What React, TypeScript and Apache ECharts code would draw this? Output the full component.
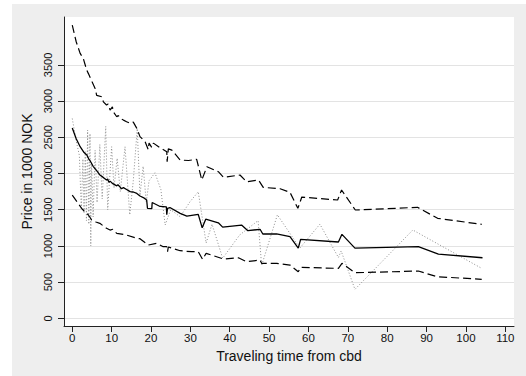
import React, { useEffect, useRef } from "react";
import * as echarts from "echarts";

// x = traveling time from cbd, y = price in 1000 NOK
const xTicks = [0, 10, 20, 30, 40, 50, 60, 70, 80, 90, 100, 110];
const yTicks = [0, 500, 1000, 1500, 2000, 2500, 3000, 3500];

const meanLine: number[][] = [
  [0, 2630], [1, 2480], [2, 2370], [3, 2290], [3.7, 2255], [4.2, 2200], [4.6, 2170],
  [5.3, 2100], [6.2, 2040], [7, 1980], [7.8, 1950], [8.7, 1910], [9.0, 1925], [9.3, 1880],
  [9.6, 1895], [10.3, 1860], [11.3, 1830], [11.6, 1845], [12.1, 1815], [12.5, 1790],
  [13.0, 1805], [13.8, 1780], [14.7, 1750], [15.5, 1745], [16.4, 1725], [17.2, 1690],
  [18.3, 1660], [18.9, 1635], [19.1, 1520], [20.2, 1515], [20.3, 1600], [22.3, 1545],
  [23.9, 1540], [24.0, 1430], [24.2, 1520], [24.8, 1530], [27.4, 1450], [29.1, 1413],
  [32.0, 1435], [33.0, 1250], [33.9, 1370], [37.1, 1320], [38.2, 1260], [43.0, 1288],
  [44.6, 1210], [47.7, 1230], [48.4, 1165], [51.9, 1165], [55.3, 1127], [57.4, 970],
  [58.0, 1090], [67.6, 1054], [68.5, 1160], [71.8, 970], [87.9, 990], [93.0, 888],
  [104.2, 837]
];

const upperBand: number[][] = [
  [0, 4050], [1, 3820], [2, 3660], [2.8, 3590], [3.66, 3430], [4.1, 3380], [5, 3270],
  [5.8, 3176], [6.2, 3080], [7.5, 3060], [7.9, 2990], [8.7, 2946], [9.1, 2960],
  [9.6, 2877], [10.2, 2920], [10.4, 2853], [11.3, 2784], [11.7, 2800], [12.3, 2760],
  [13.0, 2738], [13.8, 2715], [14.7, 2693], [15.5, 2710], [16.4, 2624], [17.2, 2510],
  [18.5, 2440], [19.3, 2330], [19.5, 2420], [20.2, 2360], [20.6, 2420], [22.3, 2356],
  [24.0, 2300], [24.1, 2163], [24.4, 2340], [25.3, 2324], [27.4, 2186], [29.5, 2180],
  [31.6, 2196], [32.9, 1910], [34.2, 2094], [37.1, 2025], [38.4, 1947], [42.6, 1979],
  [44.3, 1886], [47.3, 1910], [48.5, 1809], [52.8, 1790], [55.3, 1740], [57.3, 1519],
  [58.3, 1675], [67.4, 1634], [68.4, 1772], [71.9, 1496], [87.7, 1533], [92.8, 1381],
  [104, 1298]
];

const lowerBand: number[][] = [
  [0, 1703], [1.5, 1588], [2.5, 1510], [3.66, 1450], [4.1, 1427], [4.93, 1358],
  [6, 1330], [7, 1312], [8.7, 1243], [9.6, 1219], [10.3, 1230], [10.85, 1196],
  [11.3, 1174], [13, 1160], [13.8, 1150], [16.4, 1105], [17.2, 1100], [19.3, 1012],
  [21.4, 1036], [23.1, 989], [24, 989], [24.2, 920], [24.4, 985], [27.4, 934],
  [30.3, 920], [32, 920], [33.1, 815], [34, 898], [38.4, 819], [42.2, 837], [44.3, 782],
  [47.7, 805], [48.1, 760], [51.9, 760], [55.3, 736], [57.4, 644], [58, 704],
  [67.6, 690], [68.5, 760], [71.8, 630], [87.9, 653], [92.6, 575], [104, 539]
];

const rawAverage: number[][] = [
  [0, 2760], [1, 2450], [1.8, 2250], [2.3, 1500], [2.7, 2200], [3.0, 1450], [3.3, 2300],
  [3.6, 1350], [3.9, 2600], [4.2, 1300], [4.5, 2550], [4.7, 1000], [4.9, 2150],
  [5.3, 1400], [5.8, 2320], [6.3, 1600], [7.0, 2400], [7.6, 1650], [8.5, 2650],
  [9.0, 1500], [10.0, 2370], [10.6, 1800], [11.4, 2210], [12.2, 1750], [13.4, 2370],
  [14.6, 1430], [15.5, 1900], [16.5, 2620], [17.2, 1700], [18.0, 2100], [18.8, 1600],
  [19.5, 1900], [21.0, 2010], [22.5, 1780], [23.6, 1290], [25.0, 1500], [27.4, 1403],
  [29.9, 1610], [32.0, 1748], [34.0, 1040], [35.5, 1300], [38.2, 830], [42.5, 1150],
  [47.2, 1350], [48.1, 730], [52.1, 1430], [57.8, 970], [62.9, 1300], [67.6, 840],
  [68.3, 930], [71.8, 400], [86.5, 1220], [104, 690]
];

const FONT = "'Liberation Sans', Arial, Helvetica, sans-serif";

export default function App() {
  const ref = useRef<HTMLDivElement>(null);
  useEffect(() => {
    if (!ref.current) return;
    const chart = echarts.init(ref.current, undefined, { renderer: "svg" });
    chart.setOption({
      animation: false,
      backgroundColor: "#eeeeee",
      textStyle: { fontFamily: FONT },
      grid: {
        show: true,
        backgroundColor: "#ffffff",
        borderWidth: 0,
        left: 52,
        top: 13,
        right: 12,
        bottom: 50,
        containLabel: false
      },
      xAxis: {
        type: "value",
        min: -2.1,
        max: 112.2,
        name: "Traveling time from cbd",
        nameLocation: "middle",
        nameGap: 19,
        nameTextStyle: { fontSize: 14, color: "#111", fontFamily: FONT },
        axisLine: { show: true, onZero: false, lineStyle: { color: "#222", width: 1 } },
        axisTick: { show: true, length: 6, lineStyle: { color: "#222" }, customValues: xTicks },
        axisLabel: {
          fontSize: 11.5, color: "#111", margin: 6, fontFamily: FONT, customValues: xTicks,
          formatter: (v: number) => String(v)
        },
        splitLine: { show: false }
      },
      yAxis: {
        type: "value",
        min: -106,
        max: 4162,
        name: "Price in 1000 NOK",
        nameLocation: "middle",
        nameGap: 20,
        nameTextStyle: { fontSize: 14, color: "#111", fontFamily: FONT },
        axisLine: { show: true, onZero: false, lineStyle: { color: "#222", width: 1 } },
        axisTick: { show: true, length: 6, lineStyle: { color: "#222" }, customValues: yTicks },
        axisLabel: {
          fontSize: 11, color: "#111", margin: 11, rotate: 90, fontFamily: FONT, customValues: yTicks,
          formatter: (v: number) => String(v)
        },
        splitLine: { show: true, lineStyle: { color: "#e3e3e3", width: 1.2 } }
      },
      series: [
        {
          type: "line",
          data: rawAverage,
          symbol: "none",
          lineStyle: { color: "#8c8c8c", width: 1, type: [1, 2] },
          z: 1
        },
        {
          type: "line",
          data: upperBand,
          symbol: "none",
          lineStyle: { color: "#000", width: 1.2, type: [8, 4] },
          z: 2
        },
        {
          type: "line",
          data: lowerBand,
          symbol: "none",
          lineStyle: { color: "#000", width: 1.2, type: [8, 4] },
          z: 2
        },
        {
          type: "line",
          data: meanLine,
          symbol: "none",
          lineStyle: { color: "#000", width: 1.3 },
          z: 3
        }
      ]
    });
    return () => chart.dispose();
  }, []);
  return (
    <div
      ref={ref}
      style={{ position: "absolute", left: 12, top: 4, width: 514, height: 372 }}
    />
  );
}
